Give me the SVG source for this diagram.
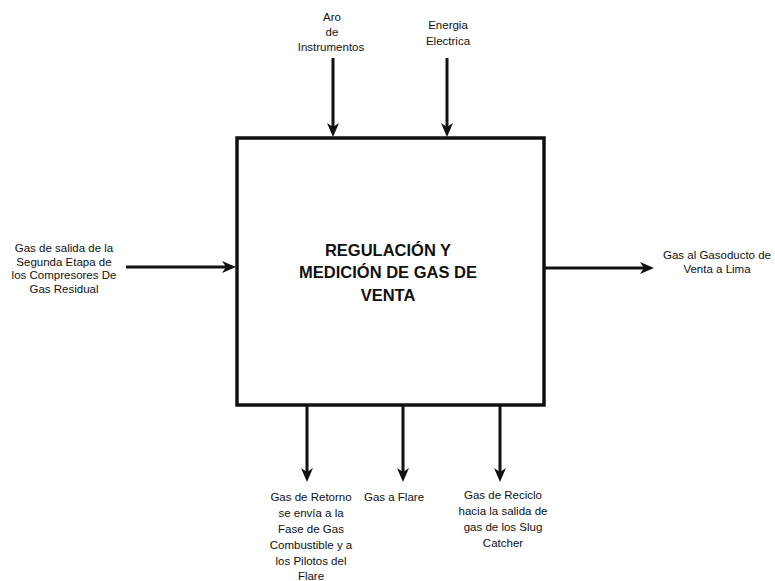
<svg xmlns="http://www.w3.org/2000/svg" width="775" height="581" viewBox="0 0 775 581">
  <style>
    .lbl { font-family: "Liberation Sans", Arial, sans-serif; font-size: 11.5px; fill: #111; text-anchor: middle; }
    .title { font-family: "Liberation Sans", Arial, sans-serif; font-size: 16.5px; font-weight: bold; fill: #111; text-anchor: middle; }
    .flow { stroke: #111; stroke-width: 3; fill: none; marker-end: url(#head); }
    .box { fill: #fff; stroke: #111; stroke-width: 3.5; }
  </style>
  <defs>
    <marker id="head" viewBox="0 0 14 14" refX="8" refY="7" markerWidth="14" markerHeight="14" markerUnits="userSpaceOnUse" orient="auto">
      <path d="M0,1 L14,7 L0,13 L4,7 z" fill="#111"/>
    </marker>
  </defs>
  <rect width="775" height="581" fill="#fff"/>

  <!-- process block -->
  <g id="proceso">
    <rect class="box" x="237" y="138" width="307" height="267"/>
    <text class="title" x="388" y="255.5">REGULACIÓN Y</text>
    <text class="title" x="388" y="278">MEDICIÓN DE GAS DE</text>
    <text class="title" x="388" y="300.5">VENTA</text>
  </g>

  <!-- flows -->
  <g id="conectores">
    <line class="flow" x1="333" y1="58" x2="333" y2="131"/>
    <line class="flow" x1="447" y1="58" x2="447" y2="131"/>
    <line class="flow" x1="126" y1="267" x2="230" y2="267"/>
    <line class="flow" x1="544" y1="268" x2="648" y2="268"/>
    <line class="flow" x1="307" y1="405" x2="307" y2="476"/>
    <line class="flow" x1="403" y1="405" x2="403" y2="476"/>
    <line class="flow" x1="500" y1="405" x2="500" y2="476"/>
  </g>

  <!-- inputs -->
  <g id="aire-instrumentos">
    <text class="lbl" x="332" y="21">Aro</text>
    <text class="lbl" x="332" y="36">de</text>
    <text class="lbl" x="331" y="51">Instrumentos</text>
  </g>
  <g id="energia-electrica">
    <text class="lbl" x="448" y="29">Energia</text>
    <text class="lbl" x="448" y="45">Electrica</text>
  </g>
  <g id="gas-salida-compresores">
    <text class="lbl" x="64" y="252">Gas de salida de la</text>
    <text class="lbl" x="64" y="265.5">Segunda Etapa de</text>
    <text class="lbl" x="64" y="279">los Compresores De</text>
    <text class="lbl" x="64" y="292.5">Gas Residual</text>
  </g>

  <!-- outputs -->
  <g id="gas-gasoducto">
    <text class="lbl" x="717" y="259">Gas al Gasoducto de</text>
    <text class="lbl" x="717" y="273">Venta a Lima</text>
  </g>
  <g id="gas-retorno">
    <text class="lbl" x="311" y="501">Gas de Retorno</text>
    <text class="lbl" x="311" y="517">se envía a la</text>
    <text class="lbl" x="311" y="533">Fase de Gas</text>
    <text class="lbl" x="311" y="549">Combustible y a</text>
    <text class="lbl" x="311" y="565">los Pilotos del</text>
    <text class="lbl" x="311" y="580">Flare</text>
  </g>
  <g id="gas-flare">
    <text class="lbl" x="394" y="501">Gas a Flare</text>
  </g>
  <g id="gas-reciclo">
    <text class="lbl" x="503" y="499">Gas de Reciclo</text>
    <text class="lbl" x="503" y="515">hacia la salida de</text>
    <text class="lbl" x="503" y="531">gas de los Slug</text>
    <text class="lbl" x="503" y="547">Catcher</text>
  </g>
</svg>
